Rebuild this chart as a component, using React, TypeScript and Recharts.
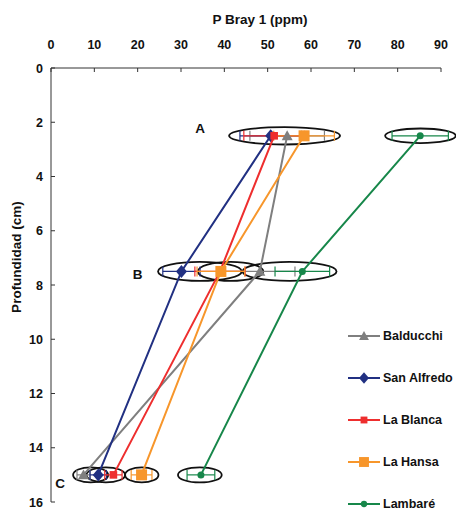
import React from 'react'
import {
  ScatterChart,
  Scatter,
  XAxis,
  YAxis,
  ErrorBar,
  ReferenceArea,
  ReferenceDot,
  Legend,
} from 'recharts'

// depth of each sampling layer (cm)
const depths = [2.5, 7.5, 15]

// P Bray 1 (ppm) per site, and the half-width of its error bar
const balducchi = [54.5, 48.2, 7.5]
const balducchiErr = [8.6, 8.1, 1.5]
const sanAlfredo = [50.7, 30.1, 10.9]
const sanAlfredoErr = [7.1, 4.3, 1.9]
const laBlanca = [51.5, 39.0, 14.4]
const laBlancaErr = [7.0, 5.8, 2.0]
const laHansa = [58.4, 39.2, 20.9]
const laHansaErr = [7.0, 5.5, 2.4]
const lambare = [85.2, 58.0, 34.6]
const lambareErr = [6.5, 6.3, 3.2]

const xTicks = [0, 10, 20, 30, 40, 50, 60, 70, 80, 90]
const yTicks = [0, 2, 4, 6, 8, 10, 12, 14, 16]

// ellipses grouping the points: [x1, x2, depth, half height]
const ellipses = [
  [41.1, 66.7, 2.5, 0.32],
  [77.1, 93.4, 2.5, 0.27],
  [24.7, 44.0, 7.5, 0.35],
  [33.9, 49.0, 7.5, 0.35],
  [44.2, 65.9, 7.5, 0.35],
  [5.1, 13.2, 15, 0.28],
  [8.2, 17.1, 15, 0.28],
  [17.1, 24.8, 15, 0.28],
  [29.3, 39.4, 15, 0.28],
]

// group letters: [label, x, depth]
const groupLabels: [string, number, number][] = [
  ['A', 34.4, 2.2],
  ['B', 20.0, 7.6],
  ['C', 2.1, 15.3],
]

const FONT = '"Liberation Sans", Arial, sans-serif'

const toRows = (vals: number[], errs: number[]) =>
  vals.map((v, i) => ({ x: v, depth: depths[i], err: errs[i] }))

const series = [
  { name: 'Balducchi', color: '#7f7f7f', marker: 'triangle', data: toRows(balducchi, balducchiErr) },
  { name: 'San Alfredo', color: '#213082', marker: 'diamond', data: toRows(sanAlfredo, sanAlfredoErr) },
  { name: 'La Blanca', color: '#ee2e2e', marker: 'smallSquare', data: toRows(laBlanca, laBlancaErr) },
  { name: 'La Hansa', color: '#f7962b', marker: 'square', data: toRows(laHansa, laHansaErr) },
  { name: 'Lambaré', color: '#17874a', marker: 'circle', data: toRows(lambare, lambareErr) },
]

const Marker = ({ kind, cx, cy, color, k = 1 }: any) => {
  if (kind === 'triangle') {
    const s = 5.5 * k
    return <path d={`M${cx},${cy - s}L${cx + s},${cy + s * 0.8}L${cx - s},${cy + s * 0.8}Z`} fill={color} />
  }
  if (kind === 'diamond') {
    const w = 5.5 * k
    const h = 6.5 * k
    return <path d={`M${cx},${cy - h}L${cx + w},${cy}L${cx},${cy + h}L${cx - w},${cy}Z`} fill={color} />
  }
  if (kind === 'smallSquare') {
    const s = 3.8 * k
    return <rect x={cx - s} y={cy - s} width={s * 2} height={s * 2} fill={color} />
  }
  if (kind === 'square') {
    const s = 5.5 * k
    return <rect x={cx - s} y={cy - s} width={s * 2} height={s * 2} fill={color} />
  }
  return <circle cx={cx} cy={cy} r={3.5 * k} fill={color} />
}

const XTick = ({ x, y, payload }: any) => (
  <g>
    <line x1={x} y1={y} x2={x} y2={y + 4} stroke="#333" />
    <text x={x} y={y - 19} textAnchor="middle" fontSize={12.5} fontWeight={700} fontFamily={FONT} fill="#111">
      {payload.value}
    </text>
  </g>
)

const YTick = ({ x, y, payload }: any) => (
  <g>
    <line x1={x} y1={y} x2={x + 4} y2={y} stroke="#333" />
    <text x={x - 8} y={y + 4.5} textAnchor="end" fontSize={12.5} fontWeight={700} fontFamily={FONT} fill="#111">
      {payload.value}
    </text>
  </g>
)

const renderLegend = () => (
  <div style={{ fontFamily: FONT, fontWeight: 700, fontSize: 12.5, color: '#111' }}>
    {series.map((s) => (
      <div key={s.name} style={{ display: 'flex', alignItems: 'center', height: 42 }}>
        <svg width={34} height={14} style={{ marginRight: 1 }}>
          <line x1={0} y1={7} x2={32} y2={7} stroke={s.color} strokeWidth={2} />
          <Marker kind={s.marker} cx={16} cy={7} color={s.color} k={0.9} />
        </svg>
        <span>{s.name}</span>
      </div>
    ))}
  </div>
)

const App = () => {
  return (
    <div style={{ position: 'absolute', left: 0, top: 0, background: '#fff' }}>
      <ScatterChart width={456} height={513} margin={{ top: 28, right: 15, bottom: 11, left: 11 }}>
        <XAxis
          type="number"
          dataKey="x"
          orientation="top"
          domain={[0, 90]}
          ticks={xTicks}
          allowDataOverflow
          height={40}
          stroke="#333"
          tickLine={false}
          tickSize={0}
          tickMargin={0}
          tick={<XTick />}
          label={{
            content: ({ viewBox }: any) => (
              <text
                x={viewBox.x + viewBox.width / 2 + 14}
                y={viewBox.y - 4}
                textAnchor="middle"
                fontSize={13.5}
                fontWeight={700}
                fontFamily={FONT}
                fill="#111"
              >
                P Bray 1 (ppm)
              </text>
            ),
          }}
        />
        <YAxis
          type="number"
          dataKey="depth"
          domain={[0, 16]}
          ticks={yTicks}
          reversed
          allowDataOverflow
          width={40}
          stroke="#333"
          tickLine={false}
          tickSize={0}
          tickMargin={0}
          tick={<YTick />}
          label={{
            content: ({ viewBox }: any) => (
              <text
                x={16}
                y={viewBox.y + viewBox.height / 2 - 28}
                transform={`rotate(-90, 16, ${viewBox.y + viewBox.height / 2 - 28})`}
                textAnchor="middle"
                dominantBaseline="central"
                fontSize={13.5}
                fontWeight={700}
                fontFamily={FONT}
                fill="#111"
              >
                Profundidad (cm)
              </text>
            ),
          }}
        />
        <Legend
          layout="vertical"
          align="center"
          verticalAlign="middle"
          content={renderLegend}
          wrapperStyle={{ left: 348, top: 315, width: 108 }}
        />
        {series.map((s) => (
          <Scatter
            key={s.name}
            name={s.name}
            data={s.data}
            fill={s.color}
            line={{ stroke: s.color, strokeWidth: 2 }}
            lineType="joint"
            isAnimationActive={false}
            shape={(p: any) => <Marker kind={s.marker} cx={p.cx} cy={p.cy} color={s.color} />}
          >
            <ErrorBar dataKey="err" direction="x" width={5} stroke={s.color} strokeWidth={1.2} />
          </Scatter>
        ))}
        {ellipses.map((e, i) => (
          <ReferenceArea
            key={i}
            x1={e[0]}
            x2={e[1]}
            y1={e[2] - e[3]}
            y2={e[2] + e[3]}
            ifOverflow="visible"
            shape={(p: any) => (
              <ellipse
                cx={p.x + p.width / 2}
                cy={p.y + p.height / 2}
                rx={Math.abs(p.width) / 2}
                ry={Math.abs(p.height) / 2}
                fill="none"
                stroke="#111"
                strokeWidth={1.8}
              />
            )}
          />
        ))}
        {groupLabels.map(([t, x, d]) => (
          <ReferenceDot
            key={t}
            x={x}
            y={d}
            ifOverflow="visible"
            shape={(p: any) => (
              <text
                x={p.cx}
                y={p.cy + 5}
                textAnchor="middle"
                fontSize={13.5}
                fontWeight={700}
                fontFamily={FONT}
                fill="#111"
              >
                {t}
              </text>
            )}
          />
        ))}
      </ScatterChart>
    </div>
  )
}

export default App
